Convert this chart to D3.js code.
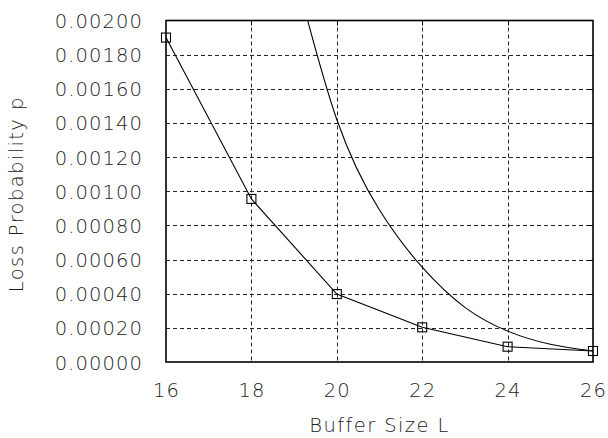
<!DOCTYPE html>
<html>
<head>
<meta charset="utf-8">
<script src="https://cdn.jsdelivr.net/npm/d3@7"></script>
<style>
  html, body { margin: 0; padding: 0; background: #fff; }
  svg { display: block; }
  text { font-family: "DejaVu Sans", sans-serif; font-weight: 200; fill: #222; }
</style>
</head>
<body>
<svg id="chart" width="608" height="438"></svg>
<script>
// Buffer sizes and loss probabilities
const bufferSizes = [16, 18, 20, 22, 24, 26];
const lossMeasured = [0.00190, 0.000955, 0.000398, 0.000203, 0.0000896, 0.0000644];

const bufferSizesCurve = [19, 20, 21, 22, 23, 24, 25, 26];
const lossCurve = [0.00230, 0.00142, 0.00089, 0.000555, 0.000320, 0.000181, 0.000104, 0.0000644];

const xTicks = [16, 18, 20, 22, 24, 26];
const yTicks = [0, 0.0002, 0.0004, 0.0006, 0.0008, 0.0010, 0.0012, 0.0014, 0.0016, 0.0018, 0.0020];

const svg = d3.select("#chart");
const pLeft = 166, pRight = 593, pTop = 20.5, pBottom = 362;

const x = d3.scaleLinear().domain([16, 26]).range([pLeft, pRight]);
const y = d3.scaleLinear().domain([0, 0.002]).range([pBottom, pTop]);

svg.append("defs").append("clipPath").attr("id", "plotClip")
  .append("rect").attr("x", pLeft).attr("y", pTop)
  .attr("width", pRight - pLeft).attr("height", pBottom - pTop);

// dashed grid
const grid = svg.append("g").attr("stroke", "#000").attr("stroke-width", 1)
  .attr("stroke-dasharray", "4,3").attr("opacity", 0.85);
grid.selectAll("line.h").data(yTicks.slice(1, -1)).join("line")
  .attr("x1", pLeft).attr("x2", pRight)
  .attr("y1", d => Math.round(y(d)) + 0.5).attr("y2", d => Math.round(y(d)) + 0.5);
grid.selectAll("line.v").data(xTicks.slice(1, -1)).join("line")
  .attr("y1", pTop).attr("y2", pBottom)
  .attr("x1", d => Math.round(x(d)) + 0.5).attr("x2", d => Math.round(x(d)) + 0.5);

// inner tick marks on right and top
const ticks = svg.append("g").attr("stroke", "#000").attr("stroke-width", 1);
ticks.selectAll("line.r").data(yTicks.slice(1, -1)).join("line")
  .attr("x1", pRight - 6).attr("x2", pRight)
  .attr("y1", d => Math.round(y(d)) + 0.5).attr("y2", d => Math.round(y(d)) + 0.5);
ticks.selectAll("line.t").data(xTicks.slice(1, -1)).join("line")
  .attr("y1", pTop).attr("y2", pTop + 5)
  .attr("x1", d => Math.round(x(d)) + 0.5).attr("x2", d => Math.round(x(d)) + 0.5);

// frame
svg.append("rect").attr("x", pLeft).attr("y", pTop)
  .attr("width", pRight - pLeft).attr("height", pBottom - pTop)
  .attr("fill", "none").attr("stroke", "#000").attr("stroke-width", 1.6);

// axes via d3 axis generators (labels only, no tick lines)
const fmt = d3.format(".5f");
const yAxis = svg.append("g").attr("transform", `translate(${pLeft - 23},0)`)
  .call(d3.axisLeft(y).tickValues(yTicks).tickFormat(fmt).tickSize(0).tickPadding(0));
yAxis.select(".domain").remove();
yAxis.selectAll("text").attr("font-size", 19.5).attr("letter-spacing", 1.1)
  .attr("dy", "0.36em").attr("fill", "#222").attr("font-family", "DejaVu Sans");

const xAxis = svg.append("g").attr("transform", `translate(0,${pBottom + 21})`)
  .call(d3.axisBottom(x).tickValues(xTicks).tickFormat(d3.format("d")).tickSize(0).tickPadding(0));
xAxis.select(".domain").remove();
xAxis.selectAll("text").attr("font-size", 19.5).attr("letter-spacing", 1.1)
  .attr("dy", "0.71em").attr("fill", "#222").attr("font-family", "DejaVu Sans");

// axis titles
svg.append("text").attr("x", (pLeft + pRight) / 2).attr("y", 432)
  .attr("text-anchor", "middle").attr("font-size", 19.5).attr("letter-spacing", 1.4)
  .text("Buffer Size L");
svg.append("text")
  .attr("transform", `translate(23,${(pTop + pBottom) / 2 + 3}) rotate(-90)`)
  .attr("text-anchor", "middle").attr("font-size", 19.5).attr("letter-spacing", 1.4)
  .text("Loss Probability p");

// analytic curve (smooth), measured points joined by straight segments
const plot = svg.append("g").attr("clip-path", "url(#plotClip)");
const smooth = d3.line().x(d => x(d[0])).y(d => y(d[1])).curve(d3.curveNatural);
const straight = d3.line().x(d => x(d[0])).y(d => y(d[1]));

plot.append("path")
  .datum(bufferSizesCurve.map((b, i) => [b, lossCurve[i]]))
  .attr("d", smooth).attr("fill", "none").attr("stroke", "#000").attr("stroke-width", 1.1);

const measured = bufferSizes.map((b, i) => [b, lossMeasured[i]]);
svg.append("path").datum(measured)
  .attr("d", straight).attr("fill", "none").attr("stroke", "#000").attr("stroke-width", 1.1);

// square markers
svg.selectAll("rect.mk").data(measured).join("rect")
  .attr("x", d => x(d[0]) - 4.5).attr("y", d => y(d[1]) - 4.5)
  .attr("width", 9).attr("height", 9)
  .attr("fill", "none").attr("stroke", "#000").attr("stroke-width", 1.1);
</script>
</body>
</html>
